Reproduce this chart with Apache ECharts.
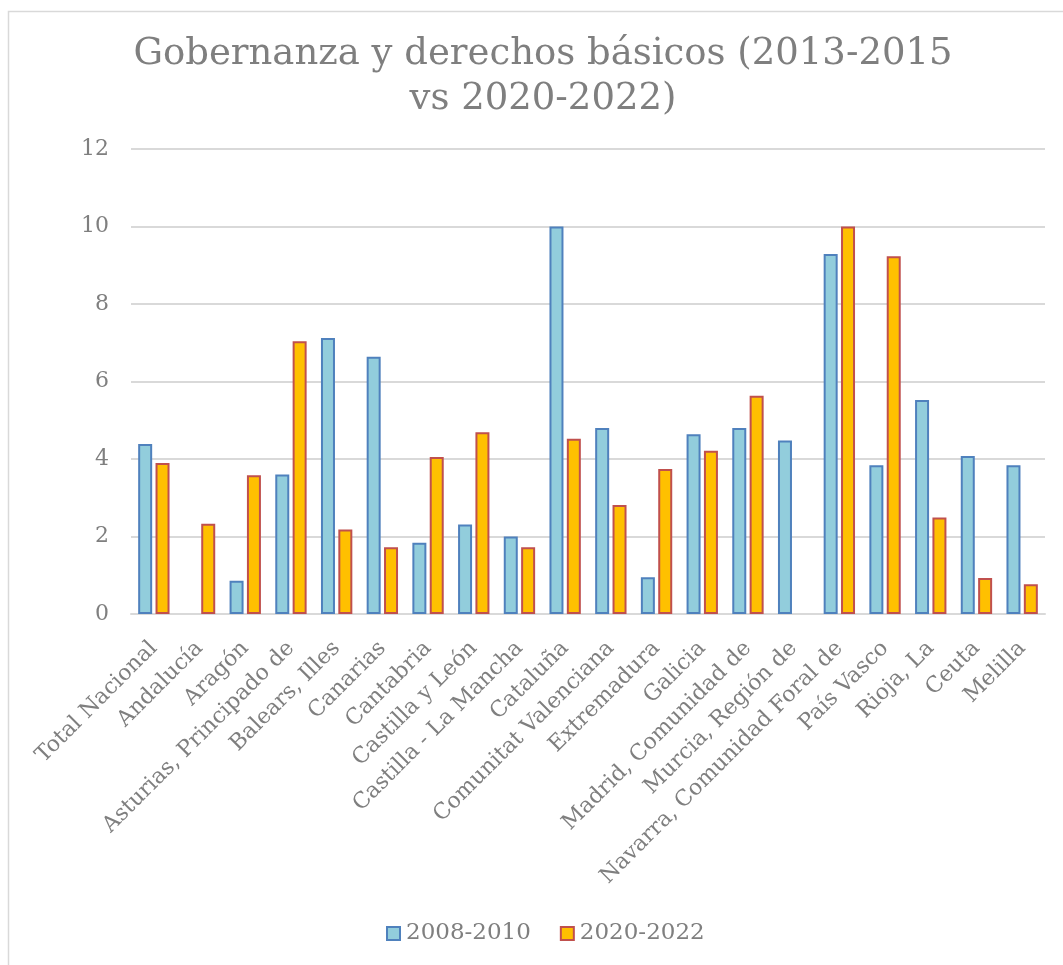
<!DOCTYPE html>
<html lang="es">
<head>
    <meta charset="UTF-8">
    <title>Gobernanza y derechos básicos</title>
    <style>
        html, body { margin: 0; padding: 0; background: #fff; }
        #main { width: 1063px; height: 965px; }
    </style>
    <script src="https://cdn.jsdelivr.net/npm/echarts@6/dist/echarts.min.js"></script>
</head>
<body>
<div id="main"></div>
<script type="text/javascript">
    // categorías (comunidades)
    var regiones = ['Total Nacional', 'Andalucía', 'Aragón', 'Asturias, Principado de', 'Balears, Illes',
        'Canarias', 'Cantabria', 'Castilla y León', 'Castilla - La Mancha', 'Cataluña',
        'Comunitat Valenciana', 'Extremadura', 'Galicia', 'Madrid, Comunidad de', 'Murcia, Región de',
        'Navarra, Comunidad Foral de', 'País Vasco', 'Rioja, La', 'Ceuta', 'Melilla'];

    // valores (null = sin barra)
    var serie2008 = [4.39, null, 0.86, 3.60, 7.12, 6.64, 1.84, 2.31, 2.00, 10.00,
        4.80, 0.95, 4.64, 4.80, 4.48, 9.29, 3.84, 5.52, 4.08, 3.84];
    var serie2020 = [3.90, 2.33, 3.58, 7.04, 2.18, 1.72, 4.05, 4.69, 1.72, 4.52,
        2.81, 3.74, 4.21, 5.63, null, 10.00, 9.23, 2.49, 0.93, 0.77];

    var nombres = ['2008-2010', '2020-2022'];
    var ticksY = [0, 2, 4, 6, 8, 10, 12];

    var gris = '#7f7f7f';
    var fuente = 'DejaVu Serif';

    var myChart = echarts.init(document.getElementById('main'));

    var option = {
        backgroundColor: '#fff',
        textStyle: { fontFamily: fuente, color: gris },
        graphic: [{
            type: 'rect',
            shape: { x: 8.5, y: 11.5, width: 1100, height: 1000 },
            style: { fill: 'none', stroke: '#d9d9d9', lineWidth: 1.5 },
            silent: true
        }],
        title: {
            text: 'Gobernanza y derechos básicos (2013-2015\nvs 2020-2022)',
            left: 538,
            textAlign: 'center',
            top: 27,
            textStyle: {
                fontFamily: fuente,
                fontWeight: 'normal',
                fontSize: 37,
                lineHeight: 45,
                color: gris
            }
        },
        legend: {
            bottom: 20,
            left: 386,
            padding: 0,
            itemWidth: 13,
            itemHeight: 13,
            itemGap: 29,
            icon: 'rect',
            textStyle: { fontFamily: fuente, fontSize: 23, color: gris, padding: [0, 0, 0, 1] },
            data: nombres
        },
        grid: {
            left: 131,
            right: 18,
            top: 149,
            bottom: 351,
            containLabel: false
        },
        xAxis: {
            type: 'category',
            data: regiones,
            axisLine: { lineStyle: { color: '#d9d9d9', width: 2 } },
            axisTick: { show: false },
            axisLabel: {
                rotate: 45,
                interval: 0,
                margin: 31,
                fontFamily: fuente,
                fontSize: 22,
                color: gris
            }
        },
        yAxis: {
            type: 'value',
            min: ticksY[0],
            max: ticksY[ticksY.length - 1],
            interval: 2,
            axisLine: { show: false },
            axisTick: { show: false },
            splitLine: { lineStyle: { color: '#d9d9d9', width: 2 } },
            axisLabel: {
                margin: 22,
                fontFamily: fuente,
                fontSize: 22,
                color: gris
            }
        },
        series: [{
            name: nombres[0],
            type: 'bar',
            data: serie2008,
            barWidth: 14,
            barGap: '24%',
            itemStyle: { color: '#92cddc', borderColor: '#4f81bd', borderWidth: 2 }
        }, {
            name: nombres[1],
            type: 'bar',
            data: serie2020,
            barWidth: 14,
            barGap: '24%',
            itemStyle: { color: '#ffc000', borderColor: '#c0504d', borderWidth: 2 }
        }]
    };

    myChart.setOption(option);
</script>
</body>
</html>
